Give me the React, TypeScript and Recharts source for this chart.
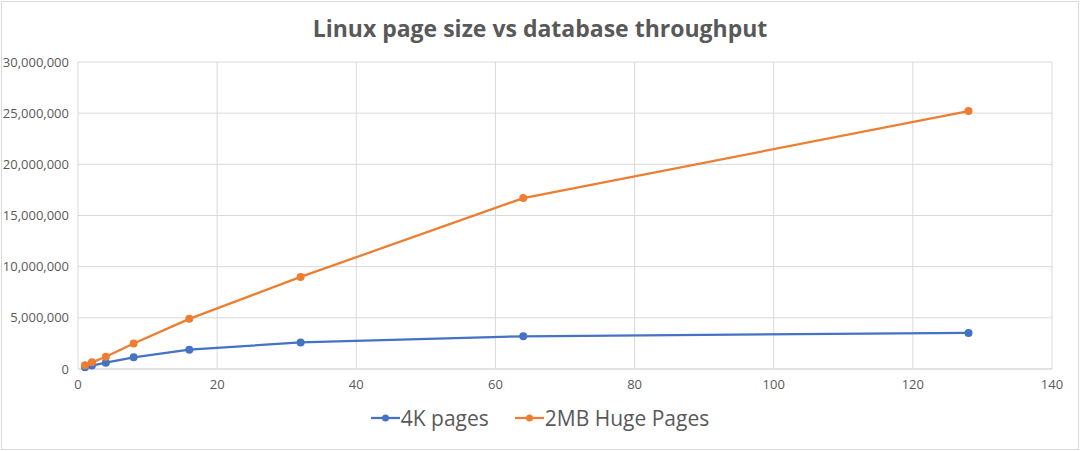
import React from "react";
import { LineChart, Line, XAxis, YAxis, CartesianGrid } from "recharts";

const threads = [1, 2, 4, 8, 16, 32, 64, 128];
const pages4k = [180000, 330000, 620000, 1140000, 1890000, 2600000, 3200000, 3520000];
const huge2mb = [360000, 650000, 1200000, 2500000, 4900000, 9000000, 16700000, 25200000];
const xTicks = [0, 20, 40, 60, 80, 100, 120, 140];
const yTicks = [0, 5000000, 10000000, 15000000, 20000000, 25000000, 30000000];
const seriesNames = ["4K pages", "2MB Huge Pages"];

const data = threads.map((t, i) => ({ x: t, a: pages4k[i], b: huge2mb[i] }));

const FONT = "'Open Sans', 'Liberation Sans', sans-serif";
const GRAY = "#595959";
const BLUE = "#4472C4";
const ORANGE = "#ED7D31";

const LegendContent = () => (
  <div style={{ display: "flex", justifyContent: "center", gap: 26, fontFamily: FONT, fontSize: 21, color: GRAY }}>
    {[BLUE, ORANGE].map((c, i) => (
      <div key={i} style={{ display: "flex", alignItems: "center" }}>
        <svg width={29} height={12} style={{ marginRight: 1 }}>
          <line x1={0} y1={6} x2={29} y2={6} stroke={c} strokeWidth={2.25} />
          <circle cx={14.5} cy={6} r={3.5} fill={c} />
        </svg>
        <span>{seriesNames[i]}</span>
      </div>
    ))}
  </div>
);

export default function App() {
  return (
    <div style={{ position: "absolute", left: 0, top: 0, width: 1080, height: 451, background: "#fff" }}>
      <div style={{ position: "absolute", left: 1, top: 1, width: 1076, height: 447, border: "1px solid #d9d9d9" }} />
      <div
        style={{
          position: "absolute",
          left: 0,
          top: 12,
          width: 1080,
          textAlign: "center",
          fontFamily: FONT,
          fontWeight: 700,
          fontSize: 23,
          color: GRAY,
        }}
      >
        Linux page size vs database throughput
      </div>
      <LineChart
        width={1080}
        height={451}
        data={data}
        margin={{ top: 62, right: 28, left: 8, bottom: 52 }}
        style={{ position: "absolute", left: 0, top: 0 }}
      >
        <CartesianGrid stroke="#d9d9d9" strokeWidth={1} />
        <XAxis
          dataKey="x"
          type="number"
          domain={[0, 140]}
          ticks={xTicks}
          height={30}
          axisLine={{ stroke: "#d9d9d9" }}
          tickLine={false}
          tick={{ fill: GRAY, fontSize: 13, fontFamily: FONT }}
          tickMargin={5}
        />
        <YAxis
          type="number"
          domain={[0, 30000000]}
          ticks={yTicks}
          width={70}
          axisLine={false}
          tickLine={false}
          tick={{ fill: GRAY, fontSize: 13, fontFamily: FONT }}
          tickFormatter={(v: number) => v.toLocaleString("en-US")}
          tickMargin={3}
        />
        <Line
          type="linear"
          dataKey="a"
          name={seriesNames[0]}
          stroke={BLUE}
          strokeWidth={2.25}
          dot={{ r: 4, fill: BLUE, stroke: BLUE, strokeWidth: 0 }}
          isAnimationActive={false}
        />
        <Line
          type="linear"
          dataKey="b"
          name={seriesNames[1]}
          stroke={ORANGE}
          strokeWidth={2.25}
          dot={{ r: 4, fill: ORANGE, stroke: ORANGE, strokeWidth: 0 }}
          isAnimationActive={false}
        />
      </LineChart>
      <div style={{ position: "absolute", left: 0, top: 404, width: 1080 }}>
        <LegendContent />
      </div>
    </div>
  );
}
